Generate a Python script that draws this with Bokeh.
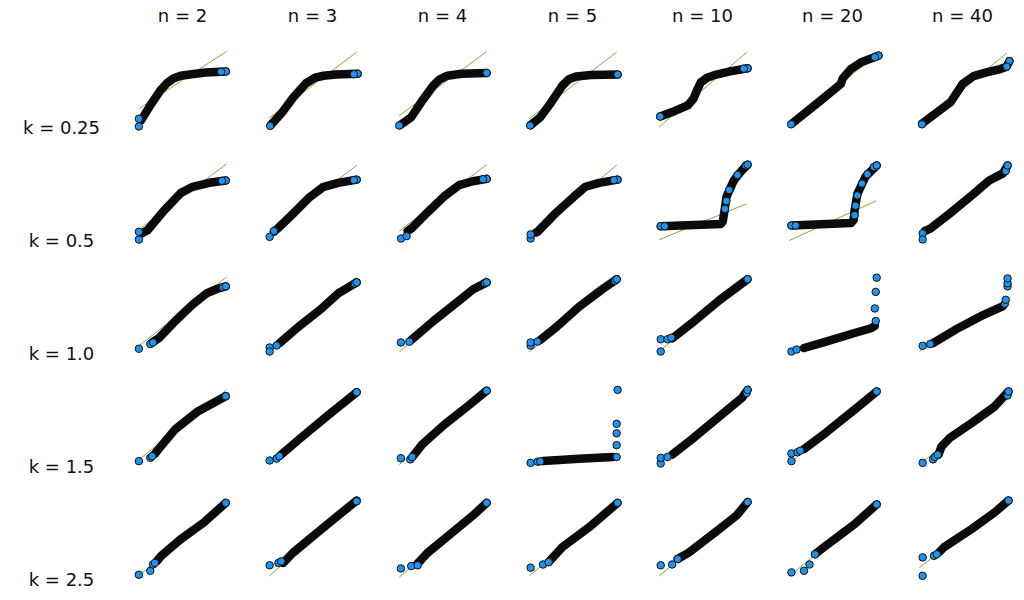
from bokeh.plotting import figure
from bokeh.layouts import gridplot
from bokeh.models import Range1d
from bokeh.core.properties import value
from bokeh.embed import file_html
from bokeh.resources import INLINE

# ---------------- data ----------------
N_LABELS = ["n = 2", "n = 3", "n = 4", "n = 5", "n = 10", "n = 20", "n = 40"]
K_LABELS = ["k = 0.25", "k = 0.5", "k = 1.0", "k = 1.5", "k = 2.5"]

# theoretical-quantile extent of the reference line (same for every panel)
REF_X = [0.03, 0.98]

# sample quantiles: dense part (band) and sparse points (dots), per panel
band_k025 = [
    [(0.05, 0.09), (0.15, 0.28), (0.26, 0.47), (0.33, 0.56), (0.40, 0.62), (0.48, 0.655), (0.60, 0.675), (0.75, 0.695), (0.97, 0.71)],
    [(0.046, 0.03), (0.17, 0.19), (0.29, 0.38), (0.36, 0.47), (0.43, 0.56), (0.53, 0.63), (0.62, 0.655), (0.75, 0.67), (0.99, 0.68)],
    [(0.04, 0.03), (0.16, 0.13), (0.28, 0.34), (0.40, 0.53), (0.47, 0.61), (0.55, 0.655), (0.71, 0.68), (0.98, 0.69)],
    [(0.045, 0.03), (0.15, 0.13), (0.27, 0.32), (0.39, 0.53), (0.46, 0.61), (0.54, 0.645), (0.70, 0.665), (0.99, 0.67)],
    [(0.04, 0.14), (0.20, 0.21), (0.34, 0.28), (0.40, 0.36), (0.44, 0.47), (0.48, 0.57), (0.55, 0.63), (0.65, 0.67), (0.80, 0.71), (0.99, 0.75)],
    [(0.06, 0.05), (0.37, 0.34), (0.59, 0.55), (0.61, 0.62), (0.70, 0.74), (0.82, 0.83), (1.0, 0.91)],
    [(0.06, 0.05), (0.37, 0.32), (0.50, 0.55), (0.62, 0.65), (0.77, 0.70), (0.91, 0.74), (0.98, 0.77), (1.01, 0.84)],
]
dots_k025 = [
    [(0.026, 0.013), (0.026, 0.11), (0.97, 0.71), (0.92, 0.705)],
    [(0.04, 0.02), (0.99, 0.68), (0.95, 0.675)],
    [(0.03, 0.025), (0.98, 0.69)],
    [(0.04, 0.025), (0.99, 0.67)],
    [(0.04, 0.14), (0.99, 0.75), (0.95, 0.745)],
    [(0.05, 0.04), (1.0, 0.91), (0.96, 0.89)],
    [(0.06, 0.04), (1.01, 0.84), (0.98, 0.77)],
]
ref_k025 = [(0.24, 0.965), (0.12, 0.954), (0.15, 0.96), (0.11, 0.955), (0.01, 0.95), (0.025, 0.925), (0.035, 0.94)]

band_k05 = [
    [(0.06, 0.09), (0.12, 0.13), (0.30, 0.38), (0.48, 0.60), (0.61, 0.68), (0.79, 0.73), (0.97, 0.76)],
    [(0.08, 0.11), (0.12, 0.15), (0.29, 0.34), (0.47, 0.55), (0.62, 0.68), (0.78, 0.73), (0.98, 0.77)],
    [(0.12, 0.12), (0.16, 0.15), (0.34, 0.36), (0.52, 0.56), (0.68, 0.70), (0.83, 0.75), (0.98, 0.78)],
    [(0.10, 0.10), (0.12, 0.11), (0.33, 0.36), (0.51, 0.55), (0.64, 0.68), (0.79, 0.73), (0.99, 0.77)],
    [(0.046, 0.18), (0.70, 0.21), (0.72, 0.24), (0.74, 0.38), (0.76, 0.55), (0.84, 0.76), (0.93, 0.89), (0.99, 0.96)],
    [(0.054, 0.19), (0.70, 0.22), (0.73, 0.26), (0.74, 0.38), (0.77, 0.59), (0.86, 0.81), (0.98, 0.95)],
    [(0.09, 0.12), (0.15, 0.15), (0.36, 0.34), (0.60, 0.57), (0.79, 0.76), (0.94, 0.85), (0.99, 0.95)],
]
dots_k05 = [
    [(0.026, 0.11), (0.026, 0.013), (0.97, 0.76), (0.93, 0.755)],
    [(0.034, 0.046), (0.08, 0.12), (0.98, 0.77), (0.95, 0.765)],
    [(0.05, 0.025), (0.11, 0.055), (0.98, 0.78), (0.94, 0.775)],
    [(0.045, 0.025), (0.045, 0.076), (0.99, 0.77), (0.95, 0.765)],
    [(0.046, 0.18), (0.09, 0.18), (0.745, 0.40), (0.76, 0.50), (0.79, 0.64), (0.88, 0.83), (0.97, 0.95), (0.99, 0.96)],
    [(0.054, 0.19), (0.10, 0.19), (0.74, 0.32), (0.75, 0.44), (0.77, 0.57), (0.82, 0.72), (0.88, 0.84), (0.95, 0.93), (0.98, 0.95)],
    [(0.067, 0.09), (0.067, 0.013), (0.97, 0.88), (0.99, 0.95)],
]
ref_k05 = [(0.14, 0.97), (0.115, 0.95), (0.12, 0.96), (0.02, 0.955), (0.01, 0.465), (0.0, 0.504), (0.05, 0.93)]

band_k10 = [
    [(0.17, 0.14), (0.24, 0.19), (0.42, 0.41), (0.61, 0.62), (0.76, 0.76), (0.88, 0.82), (0.97, 0.85)],
    [(0.14, 0.13), (0.35, 0.34), (0.60, 0.57), (0.78, 0.76), (0.98, 0.90)],
    [(0.16, 0.17), (0.40, 0.41), (0.65, 0.64), (0.83, 0.81), (0.98, 0.90)],
    [(0.15, 0.17), (0.33, 0.34), (0.57, 0.59), (0.82, 0.81), (0.98, 0.94)],
    [(0.17, 0.19), (0.38, 0.38), (0.69, 0.68), (0.99, 0.94)],
    [(0.19, 0.07), (0.43, 0.15), (0.74, 0.26), (0.92, 0.32), (0.96, 0.35)],
    [(0.18, 0.13), (0.42, 0.30), (0.73, 0.49), (0.94, 0.60)],
]
dots_k10 = [
    [(0.026, 0.06), (0.15, 0.12), (0.18, 0.14), (0.94, 0.84), (0.97, 0.85)],
    [(0.034, 0.076), (0.034, 0.025), (0.11, 0.10), (0.96, 0.885), (0.98, 0.90)],
    [(0.048, 0.14), (0.14, 0.15), (0.96, 0.89), (0.98, 0.90)],
    [(0.045, 0.10), (0.045, 0.14), (0.12, 0.15), (0.96, 0.92), (0.98, 0.94)],
    [(0.046, 0.025), (0.046, 0.18), (0.12, 0.18), (0.16, 0.20), (0.99, 0.94)],
    [(0.054, 0.025), (0.11, 0.05), (0.97, 0.41), (0.96, 0.57), (0.97, 0.78), (0.98, 0.96)],
    [(0.067, 0.097), (0.15, 0.12), (0.96, 0.63), (0.97, 0.68), (0.99, 0.85), (0.99, 0.89), (0.99, 0.95)],
]
ref_k10 = [(0.10, 0.97), (0.06, 0.97), (0.02, 0.975), (0.02, 0.955), (0.025, 0.955), (0.04, 0.33), (0.03, 0.62)]

band_k15 = [
    [(0.20, 0.16), (0.24, 0.22), (0.42, 0.47), (0.67, 0.70), (0.97, 0.89)],
    [(0.16, 0.15), (0.35, 0.34), (0.66, 0.64), (0.98, 0.94)],
    [(0.18, 0.13), (0.28, 0.28), (0.52, 0.53), (0.77, 0.76), (0.98, 0.96)],
    [(0.18, 0.07), (0.57, 0.097), (0.94, 0.12)],
    [(0.17, 0.15), (0.38, 0.34), (0.69, 0.64), (0.93, 0.87), (0.99, 0.97)],
    [(0.19, 0.22), (0.43, 0.43), (0.74, 0.72), (0.98, 0.95)],
    [(0.24, 0.15), (0.27, 0.25), (0.36, 0.36), (0.60, 0.55), (0.85, 0.76), (1.0, 0.95)],
]
dots_k15 = [
    [(0.026, 0.068), (0.15, 0.11), (0.17, 0.13), (0.97, 0.89)],
    [(0.034, 0.076), (0.11, 0.10), (0.14, 0.13), (0.98, 0.94)],
    [(0.048, 0.105), (0.15, 0.09), (0.17, 0.12), (0.98, 0.96)],
    [(0.045, 0.046), (0.12, 0.06), (0.15, 0.065), (0.98, 0.12), (0.98, 0.27), (0.98, 0.42), (0.98, 0.54), (0.99, 0.97)],
    [(0.046, 0.038), (0.046, 0.11), (0.12, 0.12), (0.98, 0.93), (0.99, 0.97)],
    [(0.054, 0.068), (0.054, 0.165), (0.12, 0.18), (0.15, 0.20), (0.98, 0.95)],
    [(0.067, 0.046), (0.18, 0.09), (0.20, 0.12), (0.23, 0.15), (0.99, 0.90), (1.0, 0.95)],
]
ref_k15 = [(0.09, 0.97), (0.03, 0.97), (0.025, 0.975), (0.04, 0.13), (0.025, 0.975), (0.04, 0.95), (0.02, 0.95)]

band_k25 = [
    [(0.22, 0.23), (0.27, 0.30), (0.48, 0.51), (0.73, 0.72), (0.97, 0.97)],
    [(0.18, 0.21), (0.29, 0.34), (0.60, 0.64), (0.98, 1.0)],
    [(0.22, 0.19), (0.34, 0.34), (0.58, 0.57), (0.83, 0.81), (0.98, 0.97)],
    [(0.24, 0.22), (0.39, 0.41), (0.70, 0.68), (0.99, 0.97)],
    [(0.23, 0.26), (0.35, 0.34), (0.63, 0.59), (0.87, 0.81), (0.99, 0.98)],
    [(0.31, 0.32), (0.43, 0.43), (0.74, 0.70), (0.98, 0.95)],
    [(0.25, 0.35), (0.30, 0.41), (0.60, 0.64), (0.85, 0.85), (1.0, 1.0)],
]
dots_k25 = [
    [(0.026, 0.06), (0.15, 0.11), (0.18, 0.19), (0.20, 0.21), (0.97, 0.97)],
    [(0.034, 0.18), (0.13, 0.21), (0.16, 0.23), (0.98, 0.99)],
    [(0.048, 0.14), (0.16, 0.17), (0.23, 0.18), (0.98, 0.97)],
    [(0.045, 0.15), (0.18, 0.19), (0.24, 0.22), (0.99, 0.97)],
    [(0.046, 0.18), (0.17, 0.19), (0.23, 0.26), (0.99, 0.98)],
    [(0.054, 0.09), (0.19, 0.11), (0.25, 0.19), (0.31, 0.32), (0.98, 0.95)],
    [(0.067, 0.28), (0.067, 0.046), (0.19, 0.30), (0.22, 0.32), (1.0, 1.0)],
]
ref_k25 = [(0.05, 0.97), (0.045, 0.99), (0.03, 0.97), (0.045, 0.97), (0.045, 0.98), (0.04, 0.95), (0.15, 0.99)]

BANDS = [band_k025, band_k05, band_k10, band_k15, band_k25]
DOTS = [dots_k025, dots_k05, dots_k10, dots_k15, dots_k25]
REFS = [ref_k025, ref_k05, ref_k10, ref_k15, ref_k25]

# ---------------- layout / style ----------------
FONT = "DejaVu Sans"
LABEL_W, COL_W, LAST_W = 117, 130, 119
TITLE_H, ROW_H, LAST_H = 40, 113, 100
PANEL_W, PANEL_H = 92, 79
PAD_L, PAD_T = 19, 8
BLUE = "#1f93ee"
GREEN = "#78b043"


def blank(width, height):
    p = figure(width=width, height=height, toolbar_location=None, output_backend="svg",
               x_axis_location=None, y_axis_location=None,
               x_range=Range1d(0, width), y_range=Range1d(0, height),
               min_border=0, min_border_left=0, min_border_right=0,
               min_border_top=0, min_border_bottom=0)
    p.grid.visible = False
    p.outline_line_color = None
    p.background_fill_color = "white"
    p.border_fill_color = "white"
    return p


def panel(width, height, band, dots, ref):
    x0 = -PAD_L / PANEL_W
    y1 = 1 + PAD_T / PANEL_H
    p = figure(width=width, height=height, toolbar_location=None, output_backend="svg",
               x_axis_location=None, y_axis_location=None,
               x_range=Range1d(x0, x0 + width / PANEL_W),
               y_range=Range1d(y1 - height / PANEL_H, y1),
               min_border=0, min_border_left=0, min_border_right=0,
               min_border_top=0, min_border_bottom=0)
    p.grid.visible = False
    p.outline_line_color = None
    p.background_fill_color = "white"
    p.border_fill_color = "white"
    p.line(REF_X, list(ref), line_color=GREEN, line_width=1)
    p.line([q[0] for q in band], [q[1] for q in band], line_color="#0b0b0b",
           line_width=8.5, line_cap="round", line_join="round")
    p.scatter([q[0] for q in dots], [q[1] for q in dots], size=7.5, marker="circle",
              fill_color=BLUE, line_color="#111111", line_width=1)
    return p


rows = []
# title row
top = [blank(LABEL_W, TITLE_H)]
for j, lab in enumerate(N_LABELS):
    w = LAST_W if j == len(N_LABELS) - 1 else COL_W
    t = blank(w, TITLE_H)
    t.text(x=[65], y=[TITLE_H - 15], text=[lab], text_align="center", text_baseline="middle",
           text_font=value(FONT), text_font_size="18px", text_color="#111111")
    top.append(t)
rows.append(top)

for i, klab in enumerate(K_LABELS):
    h = LAST_H if i == len(K_LABELS) - 1 else ROW_H
    lab = blank(LABEL_W, h)
    lab.text(x=[61], y=[h - 87], text=[klab], text_align="center", text_baseline="middle",
             text_font=value(FONT), text_font_size="18px", text_color="#111111")
    r = [lab]
    for j in range(len(N_LABELS)):
        w = LAST_W if j == len(N_LABELS) - 1 else COL_W
        r.append(panel(w, h, BANDS[i][j], DOTS[i][j], REFS[i][j]))
    rows.append(r)

grid = gridplot(rows, toolbar_location=None)
open("out.html", "w").write(file_html(grid, INLINE))
